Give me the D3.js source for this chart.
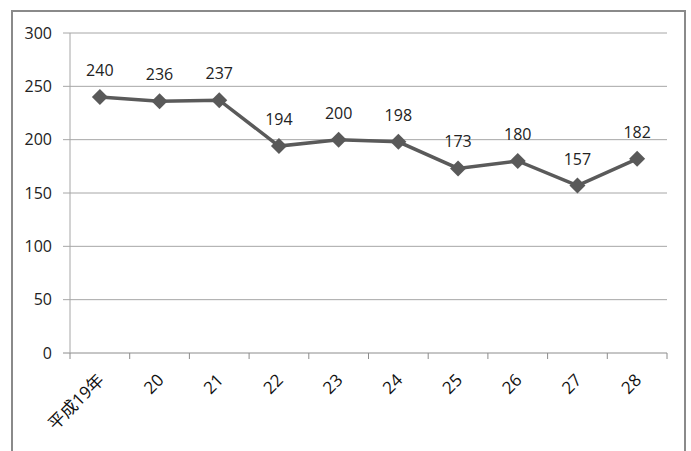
<!DOCTYPE html>
<html>
<head>
<meta charset="utf-8">
<script src="https://cdn.jsdelivr.net/npm/d3@7"></script>
<style>
  body { margin: 0; background: #fff; }
  svg { display: block; }
</style>
</head>
<body>
<div id="chart"></div>
<script>
// data
var categories = ["平成19年", "20", "21", "22", "23", "24", "25", "26", "27", "28"];
var values = [240, 236, 237, 194, 200, 198, 173, 180, 157, 182];
var yTicks = [0, 50, 100, 150, 200, 250, 300];

var W = 691, H = 451;
var margin = {top: 33, right: 24, bottom: 98, left: 70},
	width = W - margin.left - margin.right,
	height = H - margin.top - margin.bottom;

var svg = d3.select("#chart")
	.append("svg")
		.attr("width", W)
		.attr("height", H);

// outer frame (bottom edge is cut off in the picture)
svg.append("path")
	.attr("d", "M12,460 L12,11 L685,11 L685,460")
	.attr("fill", "none")
	.attr("stroke", "#8a8a8a")
	.attr("stroke-width", 2);

var g = svg.append("g")
	.attr("transform", "translate(" + margin.left + "," + margin.top + ")");

var xScale = d3.scaleBand()
	.domain(categories)
	.range([0, width]);

var yScale = d3.scaleLinear()
	.domain([0, 300])
	.range([height, 0]);

// gridlines
g.append("g")
	.selectAll("line")
	.data(yTicks)
	.enter().append("line")
		.attr("x1", -7)
		.attr("x2", width)
		.attr("y1", d => yScale(d))
		.attr("y2", d => yScale(d))
		.attr("stroke", d => d === 0 ? "#8c8c8c" : "#a6a6a6")
		.attr("stroke-width", 1);

// y axis line
g.append("line")
	.attr("x1", 0).attr("x2", 0)
	.attr("y1", 0).attr("y2", height)
	.attr("stroke", "#a6a6a6");

// y labels
g.append("g")
	.selectAll("text")
	.data(yTicks)
	.enter().append("text")
		.attr("x", -18)
		.attr("y", d => yScale(d))
		.attr("dy", "0.35em")
		.style("text-anchor", "end")
		.style("font", "16px 'Open Sans', sans-serif")
		.attr("fill", "#222")
		.text(d => d);

// x ticks at band edges
var edges = categories.map(c => xScale(c)).concat([width]);
g.append("g")
	.selectAll("line")
	.data(edges)
	.enter().append("line")
		.attr("x1", d => d).attr("x2", d => d)
		.attr("y1", height).attr("y2", height + 6)
		.attr("stroke", "#8c8c8c");

// x labels rotated
g.append("g")
	.selectAll("text")
	.data(categories)
	.enter().append("text")
		.attr("transform", d => "translate(" + (xScale(d) + xScale.bandwidth() / 2 + 1) + "," + (height + 24) + ") rotate(-45)")
		.style("text-anchor", "end")
		.style("font", "17px 'Open Sans', 'Noto Sans CJK JP', sans-serif")
		.attr("dy", "0.35em")
		.attr("fill", "#111")
		.text(d => d);

var cx = (d, i) => xScale(categories[i]) + xScale.bandwidth() / 2;

// the line
g.append("path")
	.datum(values)
	.attr("fill", "none")
	.attr("stroke", "#5a5a5a")
	.attr("stroke-width", 3.5)
	.attr("d", d3.line()
		.x(cx)
		.y(d => yScale(d)));

// diamond markers
g.append("g")
	.selectAll("path")
	.data(values)
	.enter().append("path")
		.attr("transform", (d, i) => "translate(" + cx(d, i) + "," + yScale(d) + ")")
		.attr("d", "M0,-8 L8,0 L0,8 L-8,0 Z")
		.attr("fill", "#595959");

// value labels
g.append("g")
	.selectAll("text")
	.data(values)
	.enter().append("text")
		.attr("x", cx)
		.attr("y", d => yScale(d) - 21)
		.style("text-anchor", "middle")
		.style("font", "16px 'Open Sans', sans-serif")
		.attr("fill", "#222")
		.text(d => d);
</script>
</body>
</html>
